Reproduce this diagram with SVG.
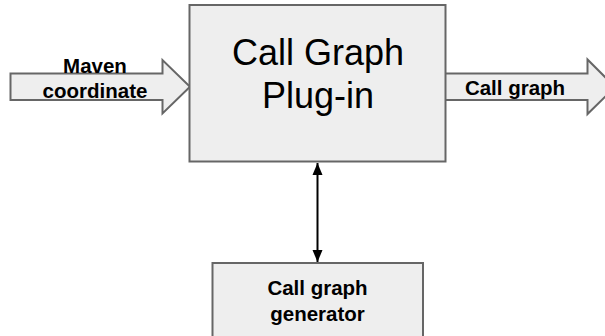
<svg xmlns="http://www.w3.org/2000/svg" width="605" height="336" viewBox="0 0 605 336">
<style>
.box{fill:#eeeeee;stroke:#666666;stroke-width:2}
.lbl{font-family:"Liberation Sans",Arial,sans-serif;font-weight:bold;font-size:20.5px;fill:#000;text-anchor:middle}
.big{font-family:"Liberation Sans",Arial,sans-serif;font-size:36px;fill:#000;text-anchor:middle}
.conn{stroke:#000;stroke-width:2;fill:none}
</style>
<defs>
<marker id="ah" markerUnits="userSpaceOnUse" markerWidth="12" markerHeight="14" refX="12" refY="5" orient="auto-start-reverse" viewBox="0 0 12 10">
<path d="M0,0 L12,5 L0,10 Z" fill="#000"/>
</marker>
</defs>
<rect width="605" height="336" fill="#ffffff"/>
<g id="input-arrow">
<polygon class="box" points="10.5,73.5 162.5,73.5 162.5,60 190,86.8 162.5,113.5 162.5,100 10.5,100"/>
<text class="lbl" x="95" y="73">Maven</text>
<text class="lbl" x="95" y="97.5">coordinate</text>
</g>
<g id="output-arrow">
<polygon class="box" points="445,73.5 587.5,73.5 587.5,59.5 615,87 587.5,114 587.5,100 445,100"/>
<text class="lbl" x="515" y="95">Call graph</text>
</g>
<g id="plugin">
<rect class="box" x="189.5" y="5" width="256" height="156.5"/>
<text class="big" x="318" y="65">Call Graph</text>
<text class="big" x="318" y="108">Plug-in</text>
</g>
<g id="generator">
<rect class="box" x="212.5" y="263" width="210.5" height="90"/>
<text class="lbl" x="317.5" y="295">Call graph</text>
<text class="lbl" x="317.5" y="321">generator</text>
</g>
<g id="connectors">
<line class="conn" x1="317.5" y1="163" x2="317.5" y2="262" marker-start="url(#ah)" marker-end="url(#ah)"/>
</g>
</svg>
